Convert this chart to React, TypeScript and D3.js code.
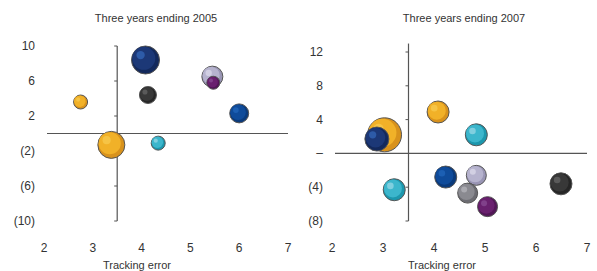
import React, { useEffect, useRef } from 'react';
import * as d3 from 'd3';

// chart 1: three years ending 2005
const tracking2005 = [2.75, 3.38, 4.08, 4.13, 4.34, 5.45, 5.47, 6.0];
const excess2005 = [3.6, -1.3, 8.4, 4.4, -1.1, 6.5, 5.8, 2.3];
const size2005 = [7, 13.5, 14, 8.5, 7, 10.5, 6.5, 9.5];
const color2005 = ['yellow', 'yellow', 'navy', 'black', 'cyan', 'lavender', 'purple', 'blue'];
const yTicks2005 = [10, 6, 2, -2, -6, -10];

// chart 2: three years ending 2007
const tracking2007 = [3.03, 2.88, 4.08, 4.83, 3.22, 4.23, 4.83, 4.66, 5.05, 6.49];
const excess2007 = [2.2, 1.7, 4.9, 2.2, -4.3, -2.8, -2.6, -4.7, -6.3, -3.6];
const size2007 = [17, 12, 11, 11, 11, 11, 10, 10, 10, 11];
const color2007 = ['yellow', 'navy', 'yellow', 'cyan', 'cyan', 'blue', 'lavender', 'gray', 'purple', 'black'];
const yTicks2007 = [12, 8, 4, 0, -4, -8];

const xTicks = [2, 3, 4, 5, 6, 7];

const palette = {
    yellow: { dark: '#d8921c', base: '#f1b128', light: '#f6c445' },
    navy: { dark: '#13295c', base: '#1c3877', light: '#2d5ba8' },
    black: { dark: '#262626', base: '#383838', light: '#5a5a5a' },
    cyan: { dark: '#1c97ad', base: '#3cb6cc', light: '#80cfdf' },
    lavender: { dark: '#9995b4', base: '#b6b3ce', light: '#d2d0e3' },
    purple: { dark: '#521657', base: '#69206e', light: '#80408a' },
    blue: { dark: '#0a3a7b', base: '#0f4b9a', light: '#1c5fb3' },
    gray: { dark: '#6c6c72', base: '#8a8a90', light: '#aaaab0' },
};

const fmt = v => (v === 0 ? '–' : v < 0 ? `(${-v})` : `${v}`);

const App = () => {
    const svgRef = useRef();

    useEffect(() => {
        const svg = d3.select(svgRef.current);
        svg.selectAll('*').remove();
        const font = '"Liberation Sans", Arial, sans-serif';

        const panels = [
            {
                title: 'Three years ending 2005', tx: 156, axisTitleX: 137,
                xr: [44, 288], ydom: [-10, 10], yr: [221, 46], ytop: 10, labelX: 35,
                xs: tracking2005, ys: excess2005, rs: size2005, cs: color2005, ticks: yTicks2005,
            },
            {
                title: 'Three years ending 2007', tx: 464, axisTitleX: 442,
                xr: [332, 587], ydom: [-8, 12], yr: [221, 52], ytop: 13, labelX: 323,
                xs: tracking2007, ys: excess2007, rs: size2007, cs: color2007, ticks: yTicks2007,
            },
        ];

        panels.forEach(p => {
            const x = d3.scaleLinear().domain([2, 7]).range(p.xr);
            const y = d3.scaleLinear().domain(p.ydom).range(p.yr);
            const g = svg.append('g');

            g.append('text')
                .attr('x', p.tx).attr('y', 22)
                .attr('text-anchor', 'middle')
                .attr('font-family', font).attr('font-size', 11)
                .attr('fill', '#333')
                .text(p.title);

            // axes crossing at tracking error 3.5 / return 0
            g.append('line')
                .attr('x1', x(2) + 3).attr('x2', x(7))
                .attr('y1', y(0)).attr('y2', y(0))
                .attr('stroke', '#555').attr('stroke-width', 1.2);
            g.append('line')
                .attr('x1', x(3.5)).attr('x2', x(3.5))
                .attr('y1', y(p.ytop)).attr('y2', y(p.ydom[0]))
                .attr('stroke', '#555').attr('stroke-width', 1.2);

            g.selectAll('.tick')
                .data(p.ticks.filter(t => t !== 0))
                .enter().append('line')
                .attr('x1', x(3.5) - 3).attr('x2', x(3.5))
                .attr('y1', d => y(d)).attr('y2', d => y(d))
                .attr('stroke', '#555');

            g.selectAll('.ylab')
                .data(p.ticks)
                .enter().append('text')
                .attr('x', p.labelX).attr('y', d => y(d) + 4)
                .attr('text-anchor', 'end')
                .attr('font-family', font).attr('font-size', 12)
                .attr('fill', '#333')
                .text(fmt);

            g.selectAll('.xlab')
                .data(xTicks)
                .enter().append('text')
                .attr('x', d => x(d)).attr('y', 252)
                .attr('text-anchor', 'middle')
                .attr('font-family', font).attr('font-size', 12)
                .attr('fill', '#333')
                .text(d => d);

            g.append('text')
                .attr('x', p.axisTitleX).attr('y', 269)
                .attr('text-anchor', 'middle')
                .attr('font-family', font).attr('font-size', 11)
                .attr('fill', '#333')
                .text('Tracking error');

            const pts = p.xs.map((v, i) => ({ x: v, y: p.ys[i], r: p.rs[i], c: palette[p.cs[i]] }));
            const b = g.selectAll('.bubble').data(pts).enter().append('g')
                .attr('transform', d => `translate(${x(d.x)},${y(d.y)})`);
            b.append('circle')
                .attr('r', d => d.r)
                .attr('fill', d => d.c.dark)
                .attr('stroke', '#555').attr('stroke-width', 1);
            b.append('circle')
                .attr('cx', d => -d.r * 0.12).attr('cy', d => -d.r * 0.12)
                .attr('r', d => d.r * 0.82)
                .attr('fill', d => d.c.base);
            b.append('circle')
                .attr('cx', d => -d.r * 0.35).attr('cy', d => -d.r * 0.35)
                .attr('r', d => d.r * 0.3)
                .attr('fill', d => d.c.light);
        });
    }, []);

    return <svg ref={svgRef} width={597} height={271} style={{ position: 'absolute', left: 0, top: 0 }}></svg>;
};

export default App;
